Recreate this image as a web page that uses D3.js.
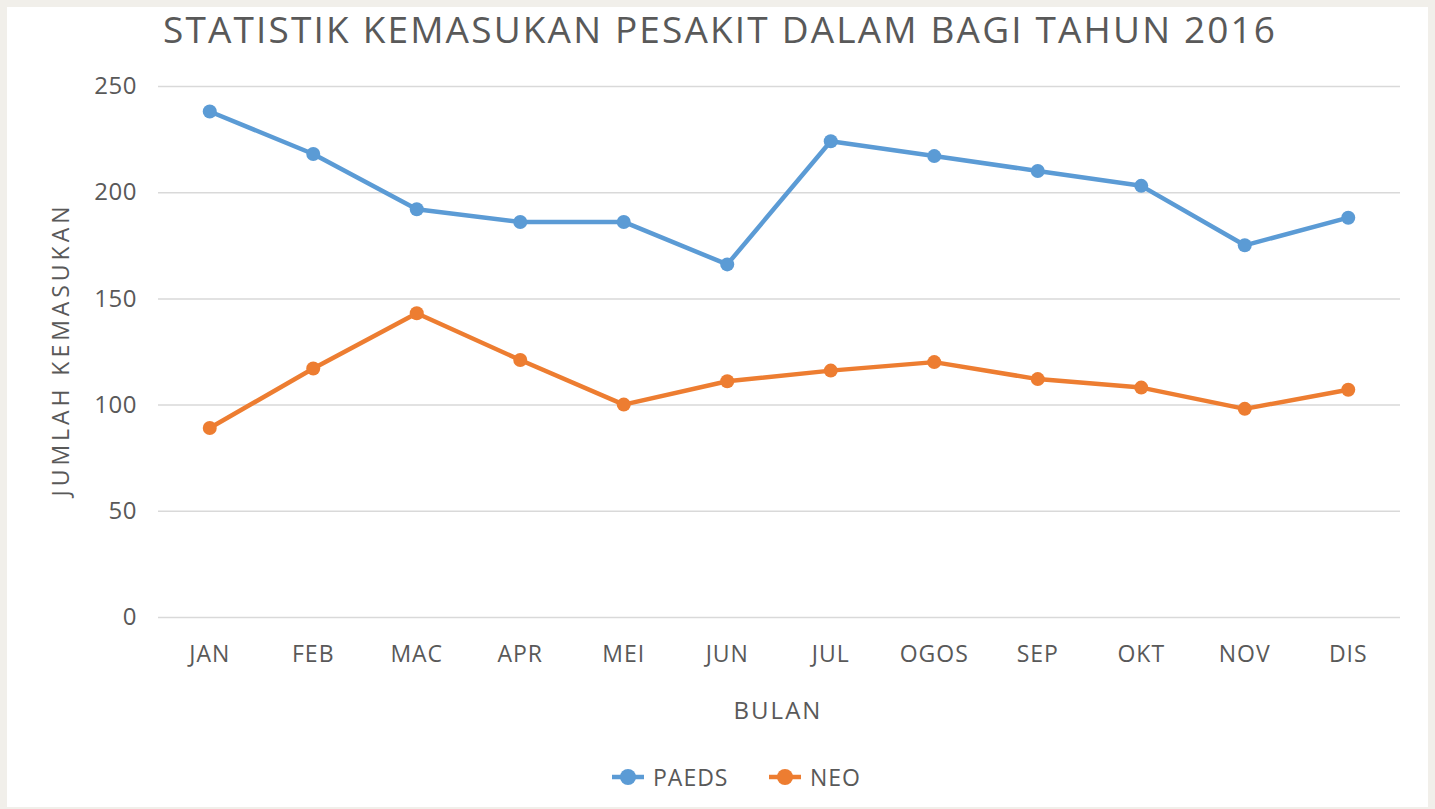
<!DOCTYPE html>
<html>
<head>
<meta charset="utf-8">
<script src="https://cdn.jsdelivr.net/npm/d3@7"></script>
<style>
  body { margin: 0; background: #f1efea; }
  svg { display: block; }
</style>
</head>
<body>
<svg id="chart" width="1435" height="809"></svg>
<script>
  // data
  const months = ['JAN','FEB','MAC','APR','MEI','JUN','JUL','OGOS','SEP','OKT','NOV','DIS'];
  const paeds = [238, 218, 192, 186, 186, 166, 224, 217, 210, 203, 175, 188];
  const neo = [89, 117, 143, 121, 100, 111, 116, 120, 112, 108, 98, 107];
  const yTicks = [0, 50, 100, 150, 200, 250];
  const seriesNames = ['PAEDS', 'NEO'];
  const seriesColors = ['#5b9bd5', '#ed7d31'];

  const svg = d3.select('svg#chart');
  const width = 1435, height = 809;
  const margin = {top: 86, right: 35, bottom: 192, left: 158};
  const innerwidth = width - margin.left - margin.right;
  const innerheight = height - margin.top - margin.bottom;
  const font = "'Open Sans', 'DejaVu Sans', sans-serif";
  const textColor = '#595959';

  // white panel
  svg.append('rect')
      .attr('x', 7).attr('y', 7)
      .attr('width', 1421).attr('height', 800)
      .attr('fill', '#ffffff');

  const xScale = d3.scaleBand()
      .domain(months)
      .range([0, innerwidth]);

  const yScale = d3.scaleLinear()
      .domain([0, 250])
      .range([innerheight, 0]);

  const g = svg.append('g')
      .attr('transform', `translate(${margin.left},${margin.top})`);

  //grid + y axis
  const yAxis = d3.axisLeft(yScale)
      .tickValues(yTicks)
      .tickSize(-innerwidth)
      .tickPadding(21);

  const yAxisG = g.append('g').call(yAxis);
  yAxisG.select('.domain').remove();
  yAxisG.selectAll('line')
      .attr('stroke', '#d9d9d9')
      .attr('stroke-width', 1.5);
  yAxisG.selectAll('text')
      .attr('fill', textColor)
      .style('font-family', font)
      .style('font-size', '24px')
      .style('letter-spacing', '0.5px');

  //x axis
  const xAxis = d3.axisBottom(xScale)
      .tickSize(0)
      .tickPadding(29);

  const xAxisG = g.append('g')
      .attr('transform', `translate(0,${innerheight})`)
      .call(xAxis);
  xAxisG.select('.domain').remove();
  xAxisG.selectAll('text')
      .attr('fill', textColor)
      .style('font-family', font)
      .style('font-size', '23px')
      .style('letter-spacing', '1px');

  //axis labels
  svg.append('text')
      .attr('x', 778).attr('y', 719)
      .attr('text-anchor', 'middle')
      .attr('fill', textColor)
      .style('font-family', font)
      .style('font-size', '24px')
      .style('letter-spacing', '2px')
      .text('BULAN');

  svg.append('text')
      .attr('transform', `translate(69,${margin.top + innerheight / 2}) rotate(-90)`)
      .attr('text-anchor', 'middle')
      .attr('fill', textColor)
      .attr('textLength', 290)
      .attr('lengthAdjust', 'spacing')
      .style('font-family', font)
      .style('font-size', '23px')
      .text('JUMLAH KEMASUKAN');

  //title
  svg.append('text')
      .attr('x', 719).attr('y', 43)
      .attr('text-anchor', 'middle')
      .attr('fill', textColor)
      .attr('textLength', 1112)
      .attr('lengthAdjust', 'spacing')
      .style('font-family', font)
      .style('font-size', '37px')
      .text('STATISTIK KEMASUKAN PESAKIT DALAM BAGI TAHUN 2016');

  //lines
  const lineGen = d3.line()
      .x((d, i) => xScale(months[i]) + xScale.bandwidth() / 2)
      .y(d => yScale(d));

  [paeds, neo].forEach((values, k) => {
    g.append('path')
        .attr('d', lineGen(values))
        .attr('fill', 'none')
        .attr('stroke', seriesColors[k])
        .attr('stroke-width', 4.5)
        .attr('stroke-linejoin', 'round');

    g.selectAll(null).data(values).enter().append('circle')
        .attr('cx', (d, i) => xScale(months[i]) + xScale.bandwidth() / 2)
        .attr('cy', d => yScale(d))
        .attr('r', 7)
        .attr('fill', seriesColors[k]);
  });

  //legend
  const legendX = [628, 785];
  seriesNames.forEach((name, k) => {
    const lg = svg.append('g')
        .attr('transform', `translate(${legendX[k]},777)`);
    lg.append('line')
        .attr('x1', -16).attr('x2', 16)
        .attr('stroke', seriesColors[k])
        .attr('stroke-width', 4.5);
    lg.append('circle')
        .attr('r', 8)
        .attr('fill', seriesColors[k]);
    lg.append('text')
        .attr('x', 25).attr('y', 8.5)
        .attr('fill', textColor)
        .style('font-family', font)
        .style('font-size', '23px')
        .style('letter-spacing', '1px')
        .text(name);
  });
</script>
</body>
</html>
